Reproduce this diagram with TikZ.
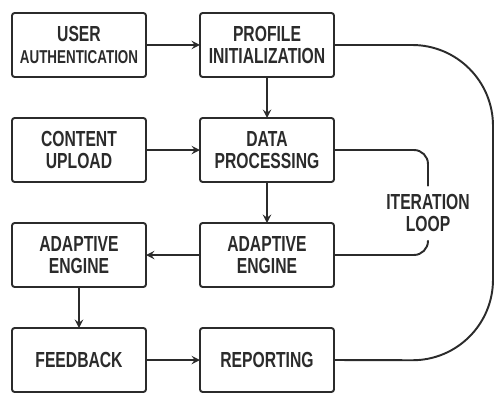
\documentclass[tikz,border=0pt]{standalone}
\usepackage{fontspec}
\newfontfamily\boxfont{Liberation Sans}[FakeStretch=0.72]
\usetikzlibrary{positioning}
\definecolor{ink}{HTML}{2B2B2B}
\begin{document}
\begin{tikzpicture}[line
				join=round,line
				cap=round,>=stealth,
				font=\boxfont\bfseries\fontsize{12.4}{12.8}\selectfont,
				stage/.style={draw=ink,text=ink,line width=1.1pt,rounded corners=1.5pt,
				minimum width=2.68cm,minimum height=1.28cm,align=center,inner sep=1pt,outer sep=0pt},
				flow/.style={->,draw=ink,line width=1.1pt},
				loopline/.style={draw=ink,line width=1.1pt},
				node distance=0.82cm and 1.08cm]
				\useasboundingbox (0,0) rectangle (9.92,-7.88);
				\node[stage] (auth) at (1.58,-0.9) {USER\\{\fontsize{10.6}{11}\selectfont AUTHENTICATION}};
				\node[stage,right=of auth] (prof) {PROFILE\\INITIALIZATION};
				\node[stage,below=of prof] (proc) {DATA\\PROCESSING};
				\node[stage,left=of proc] (upload) {CONTENT\\UPLOAD};
				\node[stage,below=of proc] (engb) {ADAPTIVE\\ENGINE};
				\node[stage,left=of engb] (enga) {ADAPTIVE\\ENGINE};
				\node[stage,below=of enga] (feed) {FEEDBACK};
				\node[stage,right=of feed] (rep) {REPORTING};
				\node[text=ink,align=center,inner sep=0pt] (iter) at (8.56,-4.26) {ITERATION\\LOOP};
				\path (iter.north) ++(0,0.16) coordinate (itop)
				(iter.south) ++(0,-0.18) coordinate (ibot)
				(9.86,-0.9) coordinate (ctop)
				(9.86,-7.21) coordinate (cbot);
				\draw[flow] (auth)--(prof);
				\draw[flow] (upload)--(proc);
				\draw[flow] (prof)--(proc);
				\draw[flow] (proc)--(engb);
				\draw[flow] (engb)--(enga);
				\draw[flow] (enga)--(feed);
				\draw[flow] (feed)--(rep);
				\draw[loopline,rounded corners=8pt] (proc.east) -| (itop);
				\draw[loopline,rounded corners=8pt] (ibot) |- (engb.east);
				\draw[loopline,rounded corners=46pt] (prof.east)--(ctop)--(cbot)--(rep.east);
			\end{tikzpicture}
\end{document}
